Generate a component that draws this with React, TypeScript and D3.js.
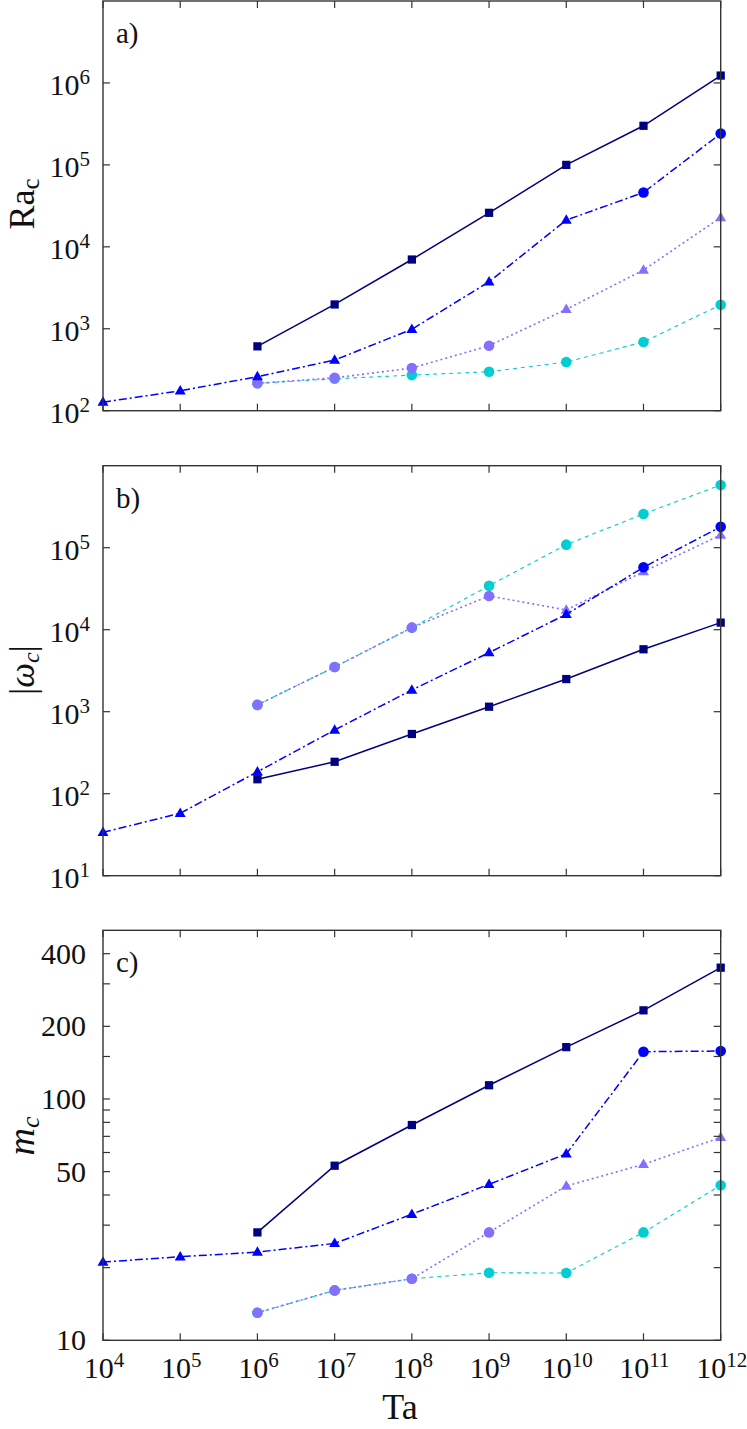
import React from "react";
import * as d3 from "d3";

// Ta values on the x axis (one column per decade)
const ta = [1e4, 1e5, 1e6, 1e7, 1e8, 1e9, 1e10, 1e11, 1e12];
const xTickExp = ["4", "5", "6", "7", "8", "9", "10", "11", "12"];

// a) critical Rayleigh number
const raNavy = [null, null, 610, 1980, 7000, 26000, 100000, 300000, 1230000];
const raBlue = [127, 175, 260, 415, 985, 3740, 21200, 46000, 241000];
const raSlate = [null, null, 216, 252, 331, 621, 1725, 5200, 22800];
const raCyan = [null, null, 216, 245, 272, 299, 393, 689, 1963];

// b) |omega_c|
const wNavy = [null, null, 150, 245, 535, 1150, 2500, 5770, 12200];
const wBlue = [33.8, 57.7, 185, 598, 1840, 5250, 15400, 57700, 180000];
const wSlate = [null, null, 1210, 3510, 10600, 25800, 17400, 51000, 143000];
const wCyan = [null, null, 1210, 3510, 10600, 34400, 109000, 258000, 582000];

// c) m_c
const mNavy = [null, null, 28.0, 52.9, 78, 114, 164, 233, 350];
const mBlue = [21.1, 22.2, 23.2, 25.2, 33.3, 44.3, 59.2, 157, 158];
const mSlate = [null, null, 13.0, 16.1, 18.0, 28.0, 43.6, 53.6, 69.3];
const mCyan = [null, null, 13.0, 16.1, 18.0, 19.05, 19.0, 28.0, 43.9];

// marker shape per point
const navyMarks = ["s", "s", "s", "s", "s", "s", "s", "s", "s"];
const blueMarks = ["t", "t", "t", "t", "t", "t", "t", "c", "c"];
const slateMarks = ["c", "c", "c", "c", "c", "c", "t", "t", "t"];
const cyanMarks = ["c", "c", "c", "c", "c", "c", "c", "c", "c"];

// y ticks
const raTicks = [1e2, 1e3, 1e4, 1e5, 1e6];
const raTickExp = ["2", "3", "4", "5", "6"];
const wTicks = [1e1, 1e2, 1e3, 1e4, 1e5];
const wTickExp = ["1", "2", "3", "4", "5"];
const mTicks = [10, 50, 100, 200, 400];
const mMinor = [20, 30, 40, 60, 70, 80, 90, 150, 300];

const FONT = "'Liberation Serif', 'Times New Roman', serif";
const L = 103;
const R = 720.7;
const TICK = 7;
const frameColor = "#333";

const styles = {
  cyan: { color: "#00ced1", dash: "4,4", width: 1.1 },
  slate: { color: "#8470ff", dash: "2,3", width: 1.6 },
  blue: { color: "#0000ff", dash: "8,3,2,3", width: 1.5 },
  navy: { color: "#000080", dash: null, width: 1.5 },
};

const x = d3.scaleLog().domain([1e4, 1e12]).range([L, R]);

function marker(kind, px, py, color, key) {
  if (kind === "s") {
    return <path key={key} d={d3.symbol(d3.symbolSquare, 68)()} transform={`translate(${px},${py})`} fill={color} />;
  }
  if (kind === "t") {
    return <path key={key} d={d3.symbol(d3.symbolTriangle, 52)()} transform={`translate(${px},${py + 0.5})`} fill={color} />;
  }
  return <circle key={key} cx={px} cy={py} r={5.3} fill={color} />;
}

function Series({ y, values, marks, st }) {
  const pts = values
    .map((v, i) => (v == null ? null : [x(ta[i]), y(v), marks[i]]))
    .filter((p) => p != null);
  const line = d3.line()(pts.map((p) => [p[0], p[1]]));
  return (
    <g>
      <path d={line} fill="none" stroke={st.color} strokeWidth={st.width} strokeDasharray={st.dash || undefined} />
      {pts.map((p, i) => marker(p[2], p[0], p[1], st.color, i))}
    </g>
  );
}

function Panel({ top, bottom, domain, ticks, tickExp, minor, letter, series, showX }) {
  const y = d3.scaleLog().domain(domain).range([bottom, top]);
  const allTicks = ticks.concat(minor || []);
  return (
    <g fontFamily={FONT} fill="#111">
      {series.map((s, i) => (
        <Series key={i} y={y} values={s.values} marks={s.marks} st={s.st} />
      ))}
      <rect x={L} y={top} width={R - L} height={bottom - top} fill="none" stroke={frameColor} strokeWidth={1.4} />
      {ta.map((t, i) => (
        <g key={"x" + i} stroke={frameColor} strokeWidth={1.2}>
          <line x1={x(t)} x2={x(t)} y1={bottom} y2={bottom - TICK} />
          <line x1={x(t)} x2={x(t)} y1={top} y2={top + TICK} />
        </g>
      ))}
      {allTicks.map((t, i) => (
        <g key={"y" + i} stroke={frameColor} strokeWidth={1.2}>
          <line x1={L} x2={L + TICK} y1={y(t)} y2={y(t)} />
          <line x1={R} x2={R - TICK} y1={y(t)} y2={y(t)} />
        </g>
      ))}
      {ticks.map((t, i) =>
        tickExp ? (
          <text key={"yl" + i} x={90} y={y(t) + 12.5} textAnchor="end" fontSize={30}>
            10<tspan dy={-11} fontSize={21}>{tickExp[i]}</tspan>
          </text>
        ) : (
          <text key={"yl" + i} x={86} y={y(t) + 10} textAnchor="end" fontSize={30}>
            {t}
          </text>
        )
      )}
      {showX &&
        ta.map((t, i) => (
          <text key={"xl" + i} x={x(t) + 1} y={1378} textAnchor="middle" fontSize={30}>
            10<tspan dy={-11} fontSize={21}>{xTickExp[i]}</tspan>
          </text>
        ))}
      <text x={116} y={top + 42} fontSize={29}>
        {letter}
      </text>
    </g>
  );
}

export default function App() {
  const pa = { top: 1, bottom: 410.7 };
  const pb = { top: 465.7, bottom: 875.7 };
  const pc = { top: 930.3, bottom: 1340.3 };
  return (
    <svg width={747} height={1429} style={{ position: "absolute", left: 0, top: 0, background: "#fff" }}>
      <Panel
        {...pa}
        domain={[1e2, 1e7]}
        ticks={raTicks}
        tickExp={raTickExp}
        letter="a)"
        series={[
          { values: raCyan, marks: cyanMarks, st: styles.cyan },
          { values: raSlate, marks: slateMarks, st: styles.slate },
          { values: raBlue, marks: blueMarks, st: styles.blue },
          { values: raNavy, marks: navyMarks, st: styles.navy },
        ]}
      />
      <Panel
        {...pb}
        domain={[1e1, 1e6]}
        ticks={wTicks}
        tickExp={wTickExp}
        letter="b)"
        series={[
          { values: wCyan, marks: cyanMarks, st: styles.cyan },
          { values: wSlate, marks: slateMarks, st: styles.slate },
          { values: wBlue, marks: blueMarks, st: styles.blue },
          { values: wNavy, marks: navyMarks, st: styles.navy },
        ]}
      />
      <Panel
        {...pc}
        domain={[10, 500]}
        ticks={mTicks}
        minor={mMinor}
        letter="c)"
        showX
        series={[
          { values: mCyan, marks: cyanMarks, st: styles.cyan },
          { values: mSlate, marks: slateMarks, st: styles.slate },
          { values: mBlue, marks: blueMarks, st: styles.blue },
          { values: mNavy, marks: navyMarks, st: styles.navy },
        ]}
      />
      {/* axis titles */}
      <g fontFamily={FONT} fill="#111">
        <text transform="translate(34,204) rotate(-90)" textAnchor="middle" fontSize={36}>
          Ra<tspan dy={5} fontSize={25}>c</tspan>
        </text>
        <text transform="translate(34,670) rotate(-90)" textAnchor="middle" fontSize={35}>
          |<tspan fontStyle="italic">ω</tspan>
          <tspan dy={5} fontSize={24} fontStyle="italic">c</tspan>
          <tspan dy={-5}>|</tspan>
        </text>
        <text transform="translate(34,1136) rotate(-90)" textAnchor="middle" fontSize={38}>
          <tspan fontStyle="italic">m</tspan>
          <tspan dy={5} fontSize={26} fontStyle="italic">c</tspan>
        </text>
        <text x={400} y={1419} textAnchor="middle" fontSize={36}>
          Ta
        </text>
      </g>
    </svg>
  );
}
